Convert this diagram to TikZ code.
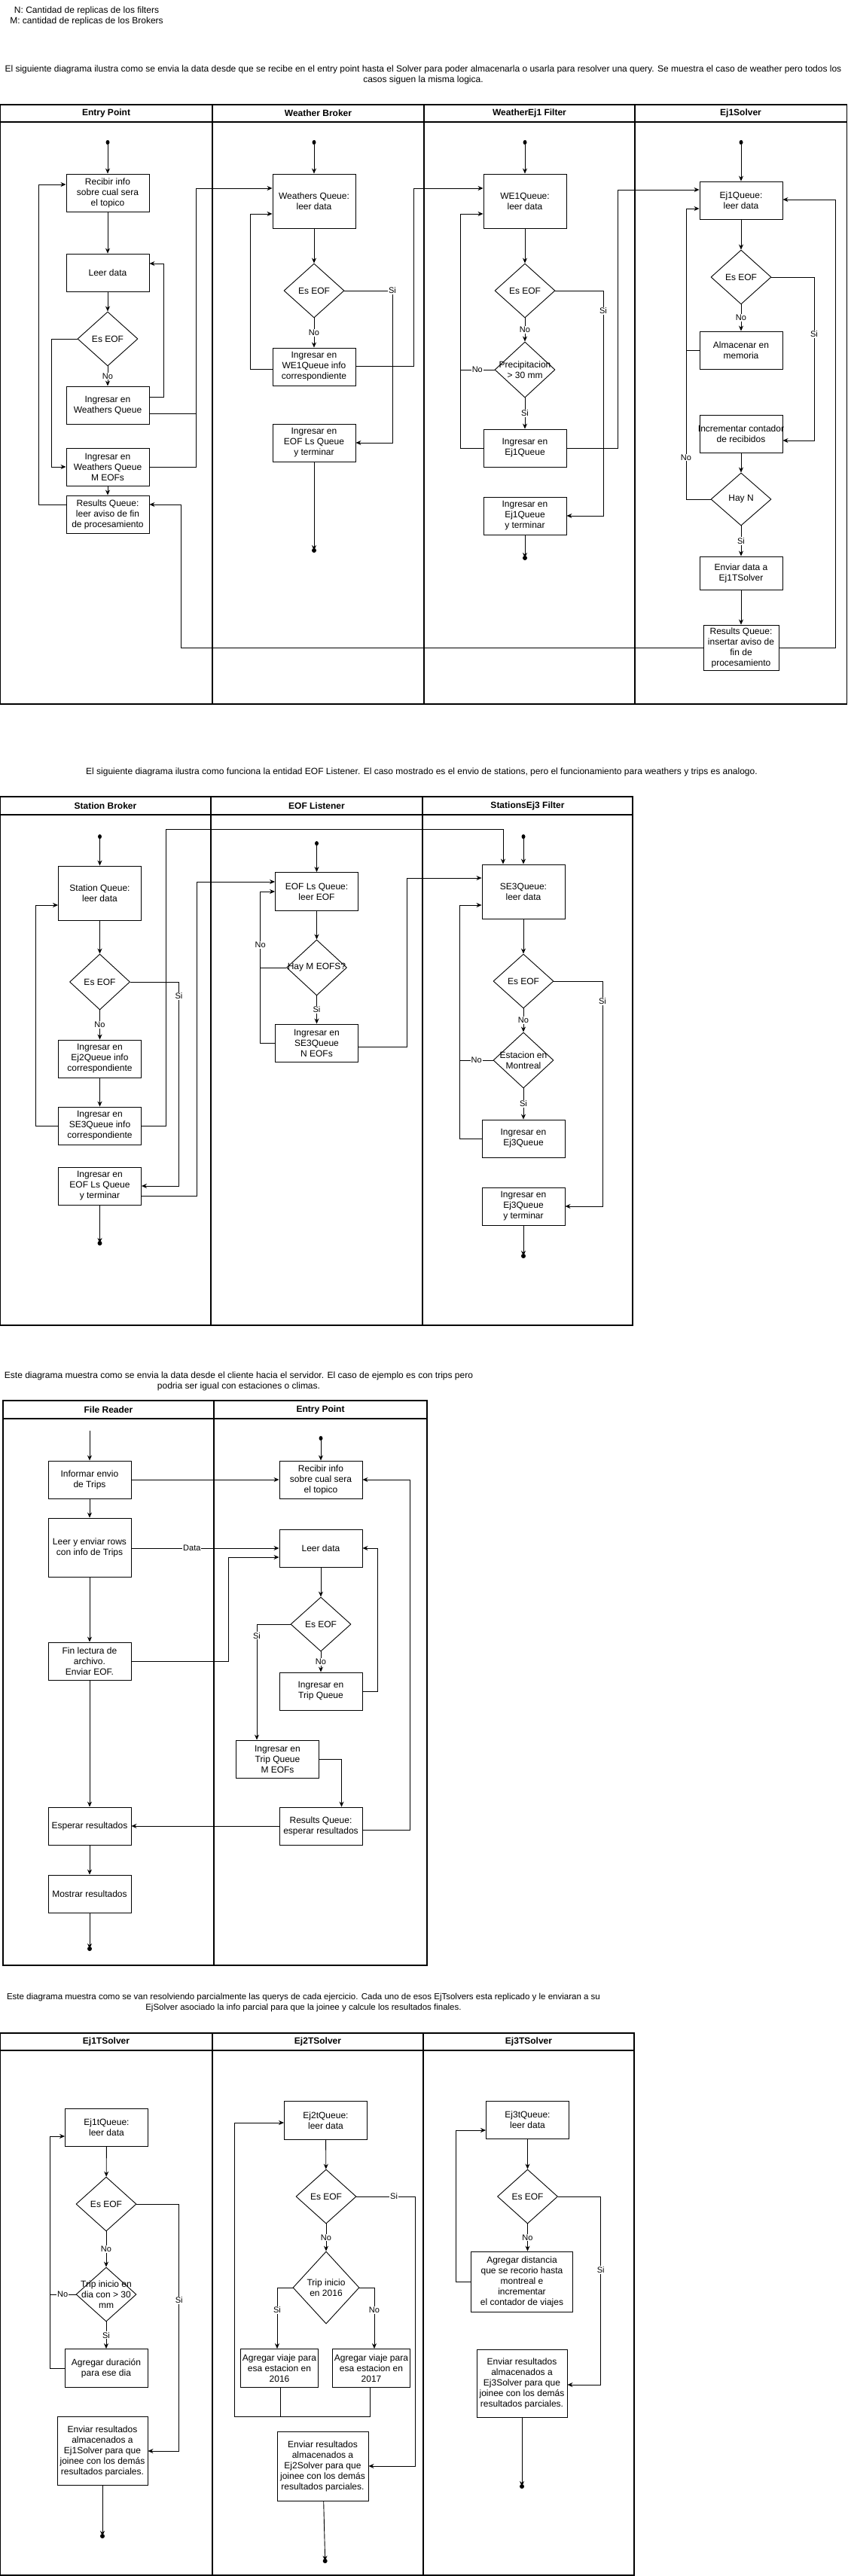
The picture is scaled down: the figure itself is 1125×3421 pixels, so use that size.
\documentclass[tikz,border=0pt]{standalone}
\usepackage{fontspec}
\setmainfont{Liberation Sans}
\usepackage{tikz}
\usetikzlibrary{arrows.meta,shapes.geometric}

\begin{document}
\begin{tikzpicture}[x=1pt,y=-1pt,
    font=\fontsize{12}{14}\selectfont,
    line width=0.9pt,
    box/.style={draw, fill=white, align=center, inner sep=2pt, minimum width=110pt, minimum height=50pt},
    decision/.style={draw, fill=white, diamond, inner sep=0pt, minimum width=80pt, minimum height=72pt},
    dtxt/.style={align=center, inner sep=0pt},
    lanehead/.style={font=\fontsize{12}{14}\selectfont\bfseries},
    lbl/.style={fill=white, inner sep=1pt, font=\fontsize{11}{13}\selectfont},
    startdot/.style={ellipse, fill, inner sep=0pt, minimum width=5pt, minimum height=6pt},
    enddot/.style={circle, fill, inner sep=0pt, minimum size=6pt},
    arr/.style={-{Stealth[length=7pt,width=6pt]}},
    laneline/.style={line width=1.1pt}]

    \fill[white] (0,0) rectangle (1125,3421);
    \useasboundingbox (0,0) rectangle (1125,3421);

    \node[align=center] (notes) at (115,21) {N: Cantidad de replicas de los filters\\M: cantidad de replicas de los Brokers};

    % ================= Weather: entry point -> solver
    \node[align=center] (capWeather) at (562,99) {El siguiente diagrama ilustra como se envia la data desde que se recibe en el entry point hasta el Solver para poder almacenarla o usarla para resolver una query. Se muestra el caso de weather pero todos los\\casos siguen la misma logica.};

    \draw[laneline] (0.5,139) rectangle (1124.5,935);
    \draw[laneline] (0.5,162) -- (1124.5,162);
    \foreach \x in {282,563,843}
        \draw[laneline] (\x,139) -- (\x,935);
    \node[lanehead] (hEntry) at (141,150.5) {Entry Point};
    \node[lanehead] (hWBroker) at (422.5,150.5) {Weather Broker};
    \node[lanehead] (hWFilter) at (703,150.5) {WeatherEj1 Filter};
    \node[lanehead] (hSolver) at (983.5,150.5) {Ej1Solver};

    % Entry Point
    \node[startdot] (epStart) at (143,189) {};
    \node[box] (epRecibir) at (143,256) {Recibir info\\sobre cual sera\\el topico};
    \node[box] (epLeer) at (143,362) {Leer data};
    \node[decision, label={[dtxt]center:Es EOF}] (epEof) at (143,450) {};
    \node[box] (epIngW) at (143,538) {Ingresar en\\Weathers Queue};
    \node[box] (epIngM) at (143,620) {Ingresar en\\Weathers Queue\\M EOFs};
    \node[box] (epRes) at (143,683) {Results Queue:\\leer aviso de fin\\de procesamiento};

    % Weather Broker
    \node[startdot] (wbStart) at (417,189) {};
    \node[box, minimum height=72pt] (wbQueue) at (417,267) {Weathers Queue:\\leer data};
    \node[decision, label={[dtxt]center:Es EOF}] (wbEof) at (417,386) {};
    \node[box] (wbIng) at (417,487) {Ingresar en\\WE1Queue info\\correspondiente};
    \node[box] (wbLs) at (417,588) {Ingresar en\\EOF Ls Queue\\y terminar};
    \node[enddot] (wbEnd) at (417,731) {};

    % WeatherEj1 Filter
    \node[startdot] (weStart) at (697,189) {};
    \node[box, minimum height=72pt] (weQueue) at (697,267) {WE1Queue:\\leer data};
    \node[decision, label={[dtxt]center:Es EOF}] (weEof) at (697,386) {};
    \node[decision, minimum height=74pt, label={[dtxt]center:Precipitacion\\> 30 mm}] (wePrec) at (697,491) {};
    \node[box] (weIng) at (697,595) {Ingresar en\\Ej1Queue};
    \node[box] (weFin) at (697,685) {Ingresar en\\Ej1Queue\\y terminar};
    \node[enddot] (weEnd) at (697,741) {};

    % Ej1Solver
    \node[startdot] (ejStart) at (984,189) {};
    \node[box] (ejQueue) at (984,266) {Ej1Queue:\\leer data};
    \node[decision, label={[dtxt]center:Es EOF}] (ejEof) at (984,368) {};
    \node[box] (ejMem) at (984,465) {Almacenar en\\memoria};
    \node[box, inner xsep=-4pt] (ejInc) at (984,576) {Incrementar contador\\de recibidos};
    \node[decision, minimum height=70pt, label={[dtxt]center:Hay N}] (ejHay) at (984,663) {};
    \node[box, minimum height=44pt] (ejEnv) at (984,761) {Enviar data a\\Ej1TSolver};
    \node[box, minimum width=100pt, minimum height=60pt] (ejRes) at (984,860) {Results Queue:\\insertar aviso de\\fin de\\procesamiento};

    % Entry Point flow
    \draw[arr] (epStart) -- (epRecibir);
    \draw[arr] (epRecibir) -- (epLeer);
    \draw[arr] (epLeer) -- (epEof);
    \draw[arr] (epEof) -- node[lbl] {No} (epIngW);
    \draw[arr] (epIngW.east |- 0,527) -- (217,527) -- (217,350) -- (epLeer.east |- 0,350);
    \draw[arr] (epEof.west) -- (68,450) -- (68,620) -- (epIngM.west);
    \draw[arr] (epIngM) -- (epRes);
    \draw[arr] (epRes.west |- 0,670) -- (51,670) -- (51,245) -- (epRecibir.west |- 0,245);
    \draw (epIngM.east) -- (260,620) -- (260,549);
    \draw[arr] (epIngW.east |- 0,549) -- (260,549) -- (260,250) -- (wbQueue.west |- 0,250);

    % Broker flow
    \draw[arr] (wbStart) -- (wbQueue);
    \draw[arr] (wbQueue) -- (wbEof);
    \draw[arr] (wbEof) -- node[lbl] {No} (wbIng);
    \draw[arr] (wbEof.east) -- (521,386) node[lbl] {Si} -- (521,588) -- (wbLs.east);
    \draw[arr] (wbIng.west |- 0,490) -- (332,490) -- (332,284) -- (wbQueue.west |- 0,284);
    \draw[arr] (wbIng.east |- 0,486) -- (549,486) -- (549,250) -- (weQueue.west |- 0,250);
    \draw[arr] (wbLs) -- (wbEnd.center);

    % Filter flow
    \draw[arr] (weStart) -- (weQueue);
    \draw[arr] (weQueue) -- (weEof);
    \draw[arr] (weEof) -- node[lbl] {No} (wePrec);
    \draw[arr] (weEof.east) -- (801,386) -- node[lbl, pos=0.09] {Si} (801,685) -- (weFin.east);
    \draw[arr] (wePrec.west) -- node[lbl] {No} (611,491) -- (611,284) -- (weQueue.west |- 0,284);
    \draw (weIng.west) -- (611,595) -- (611,491);
    \draw[arr] (wePrec) -- node[lbl] {Si} (weIng);
    \draw[arr] (weIng.east) -- (820,595) -- (820,252) -- (ejQueue.west |- 0,252);
    \draw[arr] (weFin) -- (weEnd.center);

    % Solver flow
    \draw[arr] (ejStart) -- (ejQueue);
    \draw[arr] (ejQueue) -- (ejEof);
    \draw[arr] (ejEof) -- node[lbl] {No} (ejMem);
    \draw[arr] (ejEof.east) -- (1081,368) -- node[lbl, pos=0.35] {Si} (1081,585) -- (ejInc.east |- 0,585);
    \draw[arr] (ejMem.west) -- (911,465) -- (911,277) -- (ejQueue.west |- 0,277);
    \draw (ejHay.west) -- (911,663) -- node[lbl, pos=0.28] {No} (911,465);
    \draw[arr] (ejInc) -- (ejHay);
    \draw[arr] (ejHay) -- node[lbl] {Si} (ejEnv);
    \draw[arr] (ejEnv) -- (ejRes);
    \draw[arr] (ejRes.east) -- (1109,860) -- (1109,265) -- (ejQueue.east |- 0,265);
    \draw[arr] (ejRes.west) -- (240,860) -- (240,670) -- (epRes.east |- 0,670);

    % ================= EOF Listener
    \node[align=center] (capEof) at (560,1025) {El siguiente diagrama ilustra como funciona la entidad EOF Listener. El caso mostrado es el envio de stations, pero el funcionamiento para weathers y trips es analogo.};

    \draw[laneline] (0.5,1058) rectangle (840,1760);
    \draw[laneline] (0.5,1082) -- (840,1082);
    \foreach \x in {280,561}
        \draw[laneline] (\x,1058) -- (\x,1760);
    \node[lanehead] (hSBroker) at (140,1070) {Station Broker};
    \node[lanehead] (hListener) at (420.5,1070) {EOF Listener};
    \node[lanehead] (hSFilter) at (700.5,1070) {StationsEj3 Filter};

    % Station Broker
    \node[startdot] (sbStart) at (132.5,1111) {};
    \node[box, minimum height=72pt] (sbQueue) at (132.5,1186) {Station Queue:\\leer data};
    \node[decision, minimum height=74pt, label={[dtxt]center:Es EOF}] (sbEof) at (132.5,1304) {};
    \node[box] (sbEj2) at (132.5,1406) {Ingresar en\\Ej2Queue info\\correspondiente};
    \node[box] (sbSe3) at (132.5,1495) {Ingresar en\\SE3Queue info\\correspondiente};
    \node[box] (sbLs) at (132.5,1575) {Ingresar en\\EOF Ls Queue\\y terminar};
    \node[enddot] (sbEnd) at (132.5,1651) {};

    % EOF Listener
    \node[startdot] (elStart) at (420.5,1120) {};
    \node[box, minimum height=51pt] (elQueue) at (420.5,1184) {EOF Ls Queue:\\leer EOF};
    \node[decision, minimum height=74pt, label={[dtxt]center:Hay M EOFS?}] (elHay) at (420.5,1285) {};
    \node[box] (elIng) at (420.5,1385) {Ingresar en\\SE3Queue\\N EOFs};

    % StationsEj3 Filter
    \node[startdot] (seStart) at (695,1111) {};
    \node[box, minimum height=72pt] (seQueue) at (695,1184) {SE3Queue:\\leer data};
    \node[decision, label={[dtxt]center:Es EOF}] (seEof) at (695,1303) {};
    \node[decision, minimum height=74pt, label={[dtxt]center:Estacion en\\Montreal}] (seMtl) at (695,1408) {};
    \node[box] (seIng) at (695,1512) {Ingresar en\\Ej3Queue};
    \node[box] (seFin) at (695,1602) {Ingresar en\\Ej3Queue\\y terminar};
    \node[enddot] (seEnd) at (695,1668) {};

    % Station Broker flow
    \draw[arr] (sbStart) -- (sbQueue);
    \draw[arr] (sbQueue) -- (sbEof);
    \draw[arr] (sbEof) -- node[lbl] {No} (sbEj2);
    \draw[arr] (sbEj2) -- (sbSe3);
    \draw[arr] (sbEof.east) -- (237.5,1304) -- node[lbl, pos=0.07] {Si} (237.5,1575) -- (sbLs.east);
    \draw[arr] (sbSe3.west) -- (47.5,1495) -- (47.5,1202) -- (sbQueue.west |- 0,1202);
    \draw[arr] (sbSe3.east) -- (220,1495) -- (220,1101) -- (668,1101) -- (seQueue.north -| 668,0);
    \draw[arr] (sbLs.east |- 0,1588) -- (261,1588) -- (261,1171) -- (elQueue.west |- 0,1171);
    \draw[arr] (sbLs) -- (sbEnd.center);

    % Listener flow
    \draw[arr] (elStart) -- (elQueue);
    \draw[arr] (elQueue) -- (elHay);
    \draw[arr] (elHay.west) -- (345.7,1285) -- node[lbl, pos=0.3] {No} (345.7,1184) -- (elQueue.west);
    \draw (elIng.west) -- (345.7,1385) -- (345.7,1285);
    \draw[arr] (elHay) -- node[lbl] {Si} (elIng);
    \draw[arr] (elIng.east |- 0,1390) -- (540,1390) -- (540,1166) -- (seQueue.west |- 0,1166);

    % Filter flow
    \draw[arr] (seStart) -- (seQueue);
    \draw[arr] (seQueue) -- (seEof);
    \draw[arr] (seEof) -- node[lbl] {No} (seMtl);
    \draw[arr] (seEof.east) -- (800,1303) -- node[lbl, pos=0.09] {Si} (800,1602) -- (seFin.east);
    \draw[arr] (seMtl.west) -- node[lbl] {No} (610.7,1408) -- (610.7,1202) -- (seQueue.west |- 0,1202);
    \draw (seIng.west) -- (610.7,1512) -- (610.7,1408);
    \draw[arr] (seMtl) -- node[lbl] {Si} (seIng);
    \draw[arr] (seFin) -- (seEnd.center);

    % ================= Cliente -> servidor
    \node[align=center] (capClient) at (317,1834) {Este diagrama muestra como se envia la data desde el cliente hacia el servidor. El caso de ejemplo es con trips pero\\podria ser igual con estaciones o climas.};

    \draw[laneline] (4,1860) rectangle (567,2610);
    \draw[laneline] (4,1884) -- (567,1884);
    \draw[laneline] (284,1860) -- (284,2610);
    \node[lanehead] (hReader) at (144,1872) {File Reader};
    \node[lanehead] (hEntry2) at (425.5,1872) {Entry Point};

    % File Reader
    \coordinate (frTop) at (119,1900);
    \node[box] (frInf) at (119,1965) {Informar envio\\de Trips};
    \node[box, minimum height=78pt] (frLeer) at (119,2055) {Leer y enviar rows\\con info de Trips};
    \node[box] (frFin) at (119,2206) {Fin lectura de\\archivo.\\Enviar EOF.};
    \node[box] (frEsp) at (119,2425) {Esperar resultados};
    \node[box] (frMos) at (119,2515) {Mostrar resultados};
    \node[enddot] (frEnd) at (119,2588) {};

    % Entry Point
    \node[startdot] (e3Start) at (426,1910) {};
    \node[box] (e3Rec) at (426,1965) {Recibir info\\sobre cual sera\\el topico};
    \node[box] (e3Leer) at (426,2056) {Leer data};
    \node[decision, label={[dtxt]center:Es EOF}] (e3Eof) at (426,2157) {};
    \node[box] (e3Ing) at (426,2246) {Ingresar en\\Trip Queue};
    \node[box] (e3IngM) at (368.5,2336) {Ingresar en\\Trip Queue\\M EOFs};
    \node[box] (e3Res) at (426,2425) {Results Queue:\\esperar resultados};

    % Reader flow
    \draw[arr] (frTop) -- (frInf);
    \draw[arr] (frInf) -- (frLeer);
    \draw[arr] (frLeer) -- (frFin);
    \draw[arr] (frFin) -- (frEsp);
    \draw[arr] (frEsp) -- (frMos);
    \draw[arr] (frMos) -- (frEnd.center);
    \draw[arr] (frInf) -- (e3Rec);
    \draw[arr] (frLeer.east |- 0,2056) -- node[lbl, pos=0.41] {Data} (e3Leer.west |- 0,2056);
    \draw[arr] (frFin.east) -- (303.6,2206) -- (303.6,2068) -- (e3Leer.west |- 0,2068);

    % Entry Point flow
    \draw[arr] (e3Start) -- (e3Rec);
    \draw[arr] (e3Leer) -- (e3Eof);
    \draw[arr] (e3Eof) -- node[lbl] {No} (e3Ing);
    \draw[arr] (e3Eof.west) -- (341,2157) -- node[lbl, pos=0.1] {Si} (e3IngM.north -| 341,0);
    \draw[arr] (e3Ing.east) -- (501,2246) -- (501,2056) -- (e3Leer.east);
    \draw[arr] (e3IngM.east) -- (453.5,2336) -- (e3Res.north -| 453.5,0);
    \draw[arr] (e3Res.west) -- (frEsp.east);
    \draw[arr] (e3Res.east |- 0,2430) -- (544,2430) -- (544,1965) -- (e3Rec.east);

    % ================= EjTSolvers
    \node[align=center, font=\fontsize{11.5}{14}\selectfont] (capPartial) at (403,2659) {Este diagrama muestra como se van resolviendo parcialmente las querys de cada ejercicio. Cada uno de esos EjTsolvers esta replicado y le enviaran a su\\EjSolver asociado la info parcial para que la joinee y calcule los resultados finales.};

    \draw[laneline] (0.5,2700) rectangle (842,3420);
    \draw[laneline] (0.5,2723) -- (842,2723);
    \foreach \x in {282,562}
        \draw[laneline] (\x,2700) -- (\x,3420);
    \node[lanehead] (hT1) at (141,2711.5) {Ej1TSolver};
    \node[lanehead] (hT2) at (422,2711.5) {Ej2TSolver};
    \node[lanehead] (hT3) at (702,2711.5) {Ej3TSolver};

    % Ej1TSolver
    \node[box] (t1Queue) at (141.5,2825) {Ej1tQueue:\\leer data};
    \node[decision, label={[dtxt]center:Es EOF}] (t1Eof) at (141,2927) {};
    \node[decision, label={[dtxt]center:Trip inicio en\\dia con > 30\\mm}] (t1Trip) at (141,3047) {};
    \node[box, minimum height=51pt] (t1Agr) at (141,3145) {Agregar duración\\para ese dia};
    \node[box, minimum width=120pt, minimum height=91pt] (t1Env) at (136,3255) {Enviar resultados\\almacenados a\\Ej1Solver para que\\joinee con los demás\\resultados parciales.};
    \node[enddot] (t1End) at (136,3368) {};

    % Ej2TSolver
    \node[box, minimum height=51pt] (t2Queue) at (432.5,2816) {Ej2tQueue:\\leer data};
    \node[decision, label={[dtxt]center:Es EOF}] (t2Eof) at (433,2917) {};
    \node[decision, minimum width=88pt, minimum height=96pt, label={[dtxt]center:Trip inicio\\en 2016}] (t2Trip) at (433,3038) {};
    \node[box, minimum width=103pt, minimum height=51pt] (t2A16) at (371,3145) {Agregar viaje para\\esa estacion en\\2016};
    \node[box, minimum width=103pt, minimum height=51pt] (t2A17) at (493,3145) {Agregar viaje para\\esa estacion en\\2017};
    \node[box, minimum width=121pt, minimum height=92pt] (t2Env) at (428.5,3275) {Enviar resultados\\almacenados a\\Ej2Solver para que\\joinee con los demás\\resultados parciales.};
    \node[enddot] (t2End) at (431.7,3401) {};

    % Ej3TSolver
    \node[box] (t3Queue) at (700.5,2815.5) {Ej3tQueue:\\leer data};
    \node[decision, label={[dtxt]center:Es EOF}] (t3Eof) at (700.5,2917) {};
    \node[box, minimum width=135pt, minimum height=80pt] (t3Agr) at (693,3030) {Agregar distancia\\que se recorio hasta\\montreal e\\incrementar\\el contador de viajes};
    \node[box, minimum width=120pt, minimum height=90pt] (t3Env) at (693,3165.5) {Enviar resultados\\almacenados a\\Ej3Solver para que\\joinee con los demás\\resultados parciales.};
    \node[enddot] (t3End) at (693,3302) {};

    % Ej1T flow
    \draw[arr] (t1Queue) -- (t1Eof);
    \draw[arr] (t1Eof) -- node[lbl] {No} (t1Trip);
    \draw[arr] (t1Eof.east) -- (237.7,2927) -- node[lbl, pos=0.39] {Si} (237.7,3255) -- (t1Env.east);
    \draw[arr] (t1Trip.west) -- node[lbl] {No} (66,3047) -- (66,2837) -- (t1Queue.west |- 0,2837);
    \draw (t1Agr.west) -- (66,3145) -- (66,3047);
    \draw[arr] (t1Trip) -- node[lbl] {Si} (t1Agr);
    \draw[arr] (t1Env) -- (t1End.center);

    % Ej2T flow
    \draw[arr] (t2Queue) -- (t2Eof);
    \draw[arr] (t2Eof) -- node[lbl] {No} (t2Trip);
    \draw[arr] (t2Eof.east) -- node[lbl, pos=0.64] {Si} (551,2917) -- (551,3275) -- (t2Env.east);
    \draw[arr] (t2Trip.west) -- (368,3038) -- node[lbl, pos=0.37] {Si} (t2A16.north -| 368,0);
    \draw[arr] (t2Trip.east) -- (497,3038) -- node[lbl, pos=0.37] {No} (t2A17.north -| 497,0);
    \draw[arr] (t2A16.south -| 372.7,0) -- (372.7,3209) -- (311,3209) -- (311,2819) -- (t2Queue.west |- 0,2819);
    \draw (t2A17.south -| 491,0) -- (491,3209) -- (372.7,3209);
    \draw[arr] (t2Env) -- (t2End.center);

    % Ej3T flow
    \draw[arr] (t3Queue) -- (t3Eof);
    \draw[arr] (t3Eof) -- node[lbl] {No} (t3Agr.north -| t3Eof.south);
    \draw[arr] (t3Eof.east) -- (797.7,2917) -- node[lbl, pos=0.39] {Si} (797.7,3167) -- (t3Env.east |- 0,3167);
    \draw[arr] (t3Agr.west) -- (605.7,3030) -- (605.7,2829) -- (t3Queue.west |- 0,2829);
    \draw[arr] (t3Env) -- (t3End.center);
\end{tikzpicture}
\end{document}
